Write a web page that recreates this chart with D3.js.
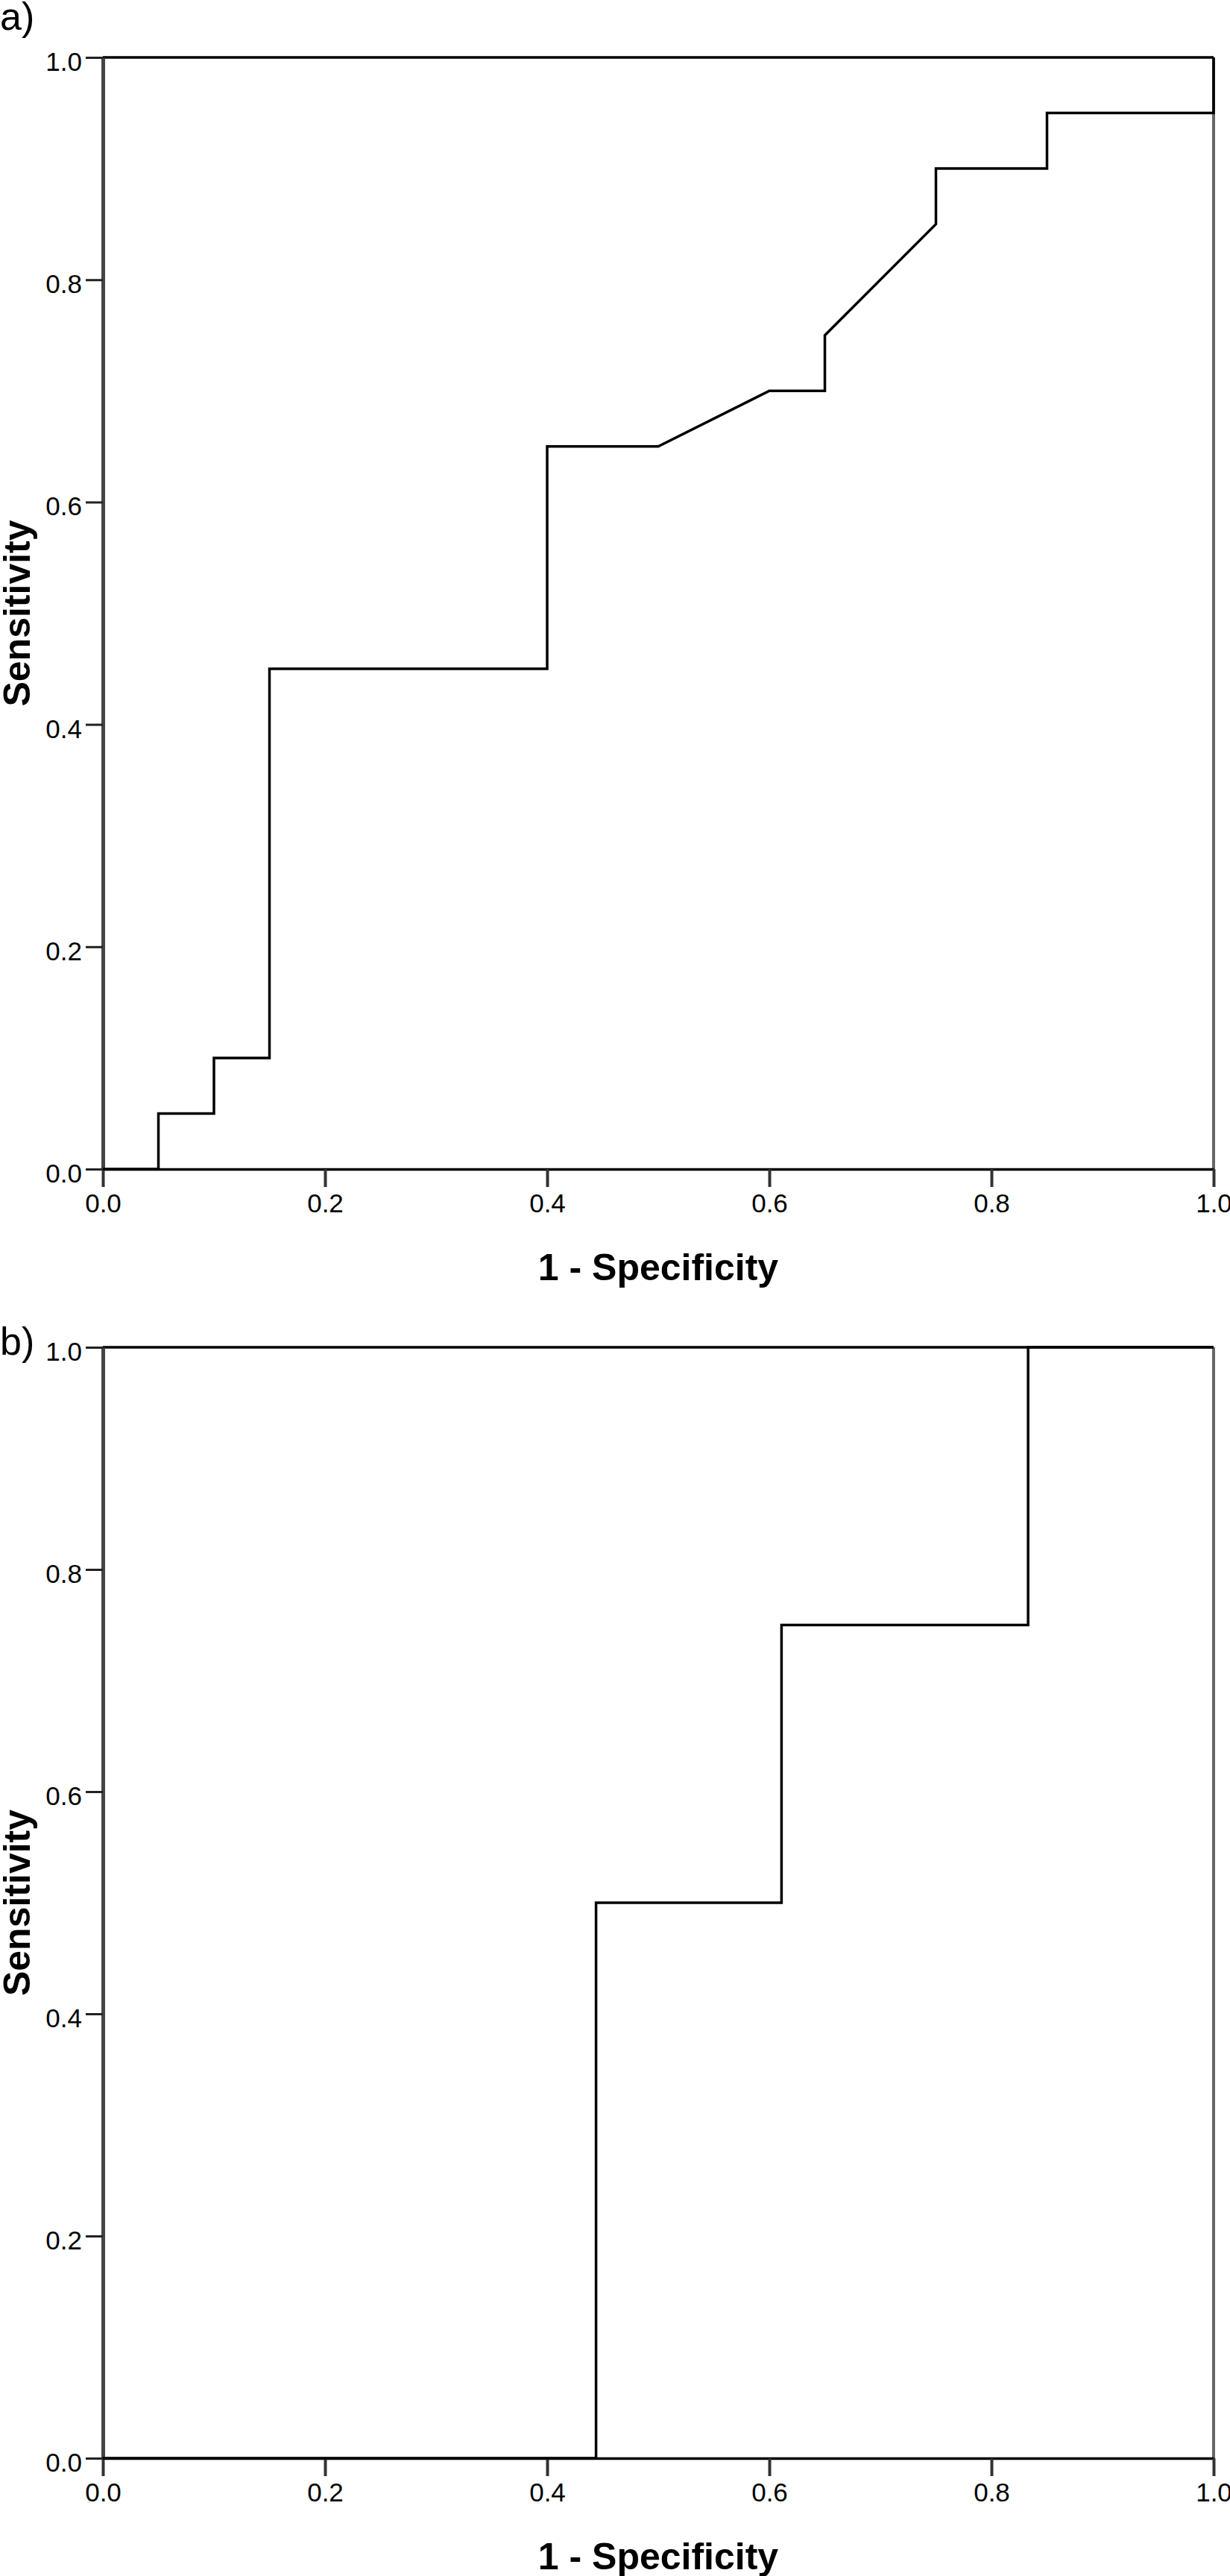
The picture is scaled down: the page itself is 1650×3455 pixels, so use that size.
<!DOCTYPE html>
<html>
<head>
<meta charset="utf-8">
<script src="https://cdn.jsdelivr.net/npm/d3@7"></script>
<style>
  html, body { margin: 0; padding: 0; background: #fff; }
  svg { display: block; font-family: "Liberation Sans", Arial, sans-serif; }
</style>
</head>
<body>
<svg id="chart" width="1650" height="3455"></svg>
<script>
// ---- Data ----
const panelLabels = ["a)", "b)"];
// Panel a ROC curve (1 - Specificity, Sensitivity)
const rocA_fpr = [0, 0.05, 0.05, 0.10, 0.10, 0.15, 0.15, 0.40, 0.40, 0.50, 0.60, 0.65, 0.65, 0.75, 0.75, 0.85, 0.85, 1.00, 1.00];
const rocA_tpr = [0, 0.00, 0.05, 0.05, 0.10, 0.10, 0.45, 0.45, 0.65, 0.65, 0.70, 0.70, 0.75, 0.85, 0.90, 0.90, 0.95, 0.95, 1.00];
// Panel b ROC curve
const rocB_fpr = [0, 0.444, 0.444, 0.611, 0.611, 0.833, 0.833, 1.00];
const rocB_tpr = [0, 0.000, 0.500, 0.500, 0.750, 0.750, 1.000, 1.00];
const tickValues = [0, 0.2, 0.4, 0.6, 0.8, 1.0];
const xTitle = "1 - Specificity";
const yTitle = "Sensitivity";

const svg = d3.select("#chart");

const panels = [
  { label: panelLabels[0], fpr: rocA_fpr, tpr: rocA_tpr, top: 77, bottom: 1568, labelY: 40 },
  { label: panelLabels[1], fpr: rocB_fpr, tpr: rocB_tpr, top: 1807, bottom: 3297, labelY: 1817 }
];

const left = 138, right = 1628;
const fmt = d3.format(".1f");

panels.forEach(p => {
  const x = d3.scaleLinear().domain([0, 1]).range([left, right]);
  const y = d3.scaleLinear().domain([0, 1]).range([p.bottom, p.top]);
  const g = svg.append("g");

  // Panel label
  g.append("text")
    .attr("x", 0).attr("y", p.labelY)
    .attr("font-size", 52)
    .attr("fill", "#000")
    .text(p.label);

  // Right frame line (gray)
  g.append("line")
    .attr("x1", x(1)).attr("x2", x(1))
    .attr("y1", y(0)).attr("y2", y(1))
    .attr("stroke", "#666").attr("stroke-width", 4);

  // Top frame line (black)
  g.append("line")
    .attr("x1", x(0)).attr("x2", x(1))
    .attr("y1", y(1)).attr("y2", y(1))
    .attr("stroke", "#000").attr("stroke-width", 3.5);

  // Y axis
  const yAxis = g.append("g")
    .attr("transform", `translate(${left},0)`)
    .call(d3.axisLeft(y).tickValues(tickValues).tickFormat(fmt).tickSize(23).tickSizeOuter(0).tickPadding(5));
  yAxis.select(".domain").attr("stroke", "#444").attr("stroke-width", 5);
  yAxis.selectAll(".tick line").attr("stroke", "#222").attr("stroke-width", 3);
  yAxis.selectAll(".tick text")
    .attr("font-size", 35).attr("fill", "#000")
    .attr("font-family", "Liberation Sans, Arial, sans-serif")
    .attr("dy", "0.5em");

  // X axis
  const xAxis = g.append("g")
    .attr("transform", `translate(0,${p.bottom})`)
    .call(d3.axisBottom(x).tickValues(tickValues).tickFormat(fmt).tickSize(24).tickSizeOuter(0).tickPadding(9));
  xAxis.select(".domain").attr("stroke", "#000").attr("stroke-width", 3.5);
  xAxis.selectAll(".tick line").attr("stroke", "#333").attr("stroke-width", 4);
  xAxis.selectAll(".tick text")
    .attr("font-size", 35).attr("fill", "#000")
    .attr("font-family", "Liberation Sans, Arial, sans-serif");

  // ROC curve
  const pts = p.fpr.map((v, i) => [v, p.tpr[i]]);
  const line = d3.line().x(d => x(d[0])).y(d => y(d[1]));
  g.append("path")
    .datum(pts)
    .attr("d", line)
    .attr("fill", "none")
    .attr("stroke", "#000")
    .attr("stroke-width", 3.5)
    .attr("stroke-linejoin", "miter");

  // X title
  g.append("text")
    .attr("x", (left + right) / 2)
    .attr("y", p.bottom + 149)
    .attr("text-anchor", "middle")
    .attr("font-size", 50).attr("font-weight", "bold")
    .attr("fill", "#000")
    .text(xTitle);

  // Y title
  g.append("text")
    .attr("transform", `translate(40,${(p.top + p.bottom) / 2}) rotate(-90)`)
    .attr("text-anchor", "middle")
    .attr("font-size", 50).attr("font-weight", "bold")
    .attr("fill", "#000")
    .text(yTitle);
});
</script>
</body>
</html>
